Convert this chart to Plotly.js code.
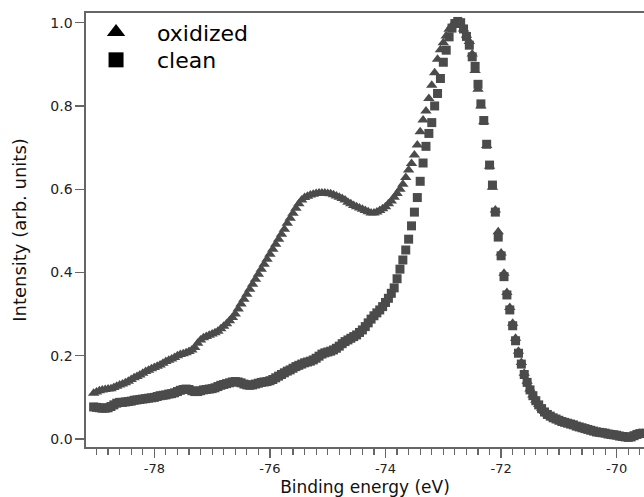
<!DOCTYPE html>
<html>
<head>
<meta charset="utf-8">
<script src="https://cdn.plot.ly/plotly-3.0.1.min.js"></script>
<style>
html,body{margin:0;padding:0;background:#fff;}
#chart{width:644px;height:497px;}
</style>
</head>
<body>
<div id="chart"></div>
<script>
// Binding energy (eV)
const energy = [
-79.05,-79.00,-78.95,-78.90,-78.85,-78.80,-78.75,-78.70,-78.65,-78.60,
-78.55,-78.50,-78.45,-78.40,-78.35,-78.30,-78.25,-78.20,-78.15,-78.10,
-78.05,-78.00,-77.95,-77.90,-77.85,-77.80,-77.75,-77.70,-77.65,-77.60,
-77.55,-77.50,-77.45,-77.40,-77.35,-77.30,-77.25,-77.20,-77.15,-77.10,
-77.05,-77.00,-76.95,-76.90,-76.85,-76.80,-76.75,-76.70,-76.65,-76.60,
-76.55,-76.50,-76.45,-76.40,-76.35,-76.30,-76.25,-76.20,-76.15,-76.10,
-76.05,-76.00,-75.95,-75.90,-75.85,-75.80,-75.75,-75.70,-75.65,-75.60,
-75.55,-75.50,-75.45,-75.40,-75.35,-75.30,-75.25,-75.20,-75.15,-75.10,
-75.05,-75.00,-74.95,-74.90,-74.85,-74.80,-74.75,-74.70,-74.65,-74.60,
-74.55,-74.50,-74.45,-74.40,-74.35,-74.30,-74.25,-74.20,-74.15,-74.10,
-74.05,-74.00,-73.95,-73.90,-73.85,-73.80,-73.75,-73.70,-73.65,-73.60,
-73.55,-73.50,-73.45,-73.40,-73.35,-73.30,-73.25,-73.20,-73.15,-73.10,
-73.05,-73.00,-72.95,-72.90,-72.85,-72.80,-72.75,-72.70,-72.65,-72.60,
-72.55,-72.50,-72.45,-72.40,-72.35,-72.30,-72.25,-72.20,-72.15,-72.10,
-72.05,-72.00,-71.95,-71.90,-71.85,-71.80,-71.75,-71.70,-71.65,-71.60,
-71.55,-71.50,-71.45,-71.40,-71.35,-71.30,-71.25,-71.20,-71.15,-71.10,
-71.05,-71.00,-70.95,-70.90,-70.85,-70.80,-70.75,-70.70,-70.65,-70.60,
-70.55,-70.50,-70.45,-70.40,-70.35,-70.30,-70.25,-70.20,-70.15,-70.10,
-70.05,-70.00,-69.95,-69.90,-69.85,-69.80,-69.75,-69.70,-69.65,-69.60,
-69.55
];

// Intensity, clean surface (squares)
const clean = [
0.077,0.076,0.075,0.074,0.074,0.075,0.078,0.082,0.086,0.088,
0.088,0.089,0.090,0.091,0.093,0.094,0.095,0.096,0.097,0.098,
0.099,0.100,0.102,0.104,0.105,0.106,0.108,0.109,0.111,0.114,
0.117,0.119,0.120,0.119,0.116,0.114,0.114,0.116,0.118,0.119,
0.120,0.121,0.123,0.126,0.129,0.131,0.133,0.135,0.137,0.138,
0.137,0.135,0.132,0.130,0.129,0.130,0.132,0.134,0.136,0.137,
0.138,0.140,0.143,0.147,0.151,0.155,0.159,0.163,0.166,0.170,
0.174,0.177,0.180,0.183,0.185,0.187,0.190,0.194,0.199,0.204,
0.207,0.209,0.211,0.214,0.218,0.223,0.229,0.234,0.238,0.242,
0.246,0.250,0.256,0.262,0.270,0.279,0.288,0.296,0.303,0.310,
0.318,0.328,0.338,0.350,0.363,0.385,0.408,0.430,0.454,0.480,
0.512,0.545,0.580,0.619,0.663,0.703,0.734,0.760,0.800,0.830,
0.866,0.905,0.934,0.966,0.987,0.998,1.003,1.000,0.985,0.967,
0.946,0.918,0.895,0.852,0.805,0.765,0.708,0.658,0.610,0.545,
0.485,0.440,0.390,0.346,0.310,0.272,0.236,0.206,0.180,0.155,
0.136,0.118,0.104,0.092,0.082,0.073,0.065,0.059,0.055,0.051,
0.048,0.045,0.042,0.040,0.038,0.036,0.034,0.031,0.029,0.027,
0.025,0.023,0.021,0.019,0.017,0.016,0.015,0.014,0.012,0.011,
0.010,0.009,0.007,0.006,0.005,0.004,0.005,0.008,0.011,0.013,
0.014
];

// Intensity, oxidized surface (triangles)
const oxidized = [
0.110,0.113,0.116,0.118,0.119,0.120,0.121,0.124,0.127,0.130,
0.132,0.135,0.139,0.143,0.147,0.150,0.154,0.158,0.162,0.165,
0.169,0.172,0.175,0.178,0.182,0.186,0.189,0.192,0.196,0.200,
0.203,0.205,0.207,0.210,0.214,0.220,0.230,0.238,0.243,0.246,
0.249,0.252,0.255,0.259,0.265,0.271,0.277,0.284,0.292,0.300,
0.312,0.324,0.336,0.348,0.360,0.372,0.384,0.396,0.408,0.420,
0.432,0.444,0.456,0.468,0.480,0.492,0.504,0.518,0.530,0.542,
0.554,0.565,0.574,0.580,0.583,0.586,0.588,0.590,0.591,0.591,
0.591,0.590,0.589,0.587,0.584,0.581,0.578,0.574,0.569,0.565,
0.561,0.558,0.555,0.552,0.549,0.546,0.543,0.543,0.545,0.549,
0.553,0.558,0.565,0.572,0.581,0.590,0.600,0.612,0.628,0.646,
0.662,0.682,0.706,0.738,0.766,0.788,0.818,0.850,0.880,0.912,
0.935,0.952,0.968,0.984,0.993,0.999,1.000,0.997,0.985,0.970,
0.955,0.925,0.885,0.840,0.800,0.762,0.705,0.655,0.605,0.550,
0.498,0.447,0.398,0.352,0.316,0.278,0.242,0.211,0.184,0.158,
0.139,0.120,0.106,0.093,0.083,0.074,0.066,0.060,0.055,0.051,
0.048,0.045,0.042,0.040,0.038,0.036,0.034,0.031,0.029,0.027,
0.025,0.023,0.021,0.019,0.017,0.016,0.015,0.014,0.012,0.011,
0.010,0.009,0.007,0.006,0.005,0.004,0.005,0.008,0.011,0.013,
0.014
];

const seriesNames = ['oxidized', 'clean'];
const xTickVals = [-78, -76, -74, -72, -70];
const yTickVals = [0.0, 0.2, 0.4, 0.6, 0.8, 1.0];

const dataColor = '#4b4b4b';
const axisColor = '#666666';
const font = 'DejaVu Sans, Verdana, sans-serif';
const pad = '\u00a0\u00a0\u00a0';

const traces = [
  {x: energy, y: oxidized, type: 'scatter', mode: 'markers', showlegend: false,
   marker: {symbol: 'triangle-up', size: 10, color: dataColor, line: {width: 0}}},
  {x: energy, y: clean, type: 'scatter', mode: 'markers', showlegend: false,
   marker: {symbol: 'square', size: 9, color: dataColor, line: {width: 0}}},
  {x: [null], y: [null], type: 'scatter', mode: 'markers', name: pad + seriesNames[0],
   legend: 'legend',
   marker: {symbol: 'triangle-up', size: 16, color: '#000000', line: {width: 0}}},
  {x: [null], y: [null], type: 'scatter', mode: 'markers', name: pad + seriesNames[1],
   legend: 'legend2',
   marker: {symbol: 'square', size: 15, color: '#000000', line: {width: 0}}}
];

const legendCommon = {xanchor: 'left', yanchor: 'top', bgcolor: 'rgba(0,0,0,0)', borderwidth: 0,
  font: {family: font, size: 22, color: '#000'}};

const layout = {
  width: 644, height: 497,
  margin: {l: 86, r: 0, t: 13, b: 50, pad: 0},
  paper_bgcolor: '#ffffff', plot_bgcolor: '#ffffff',
  showlegend: true,
  legend: Object.assign({x: 0.018, y: 1.004}, legendCommon),
  legend2: Object.assign({x: 0.018, y: 0.940}, legendCommon),
  xaxis: {
    range: [-79.182, -69.528], autorange: false,
    tickmode: 'array', tickvals: xTickVals, ticktext: xTickVals.map(String),
    ticks: 'outside', ticklen: 9, tickwidth: 1.3, tickcolor: axisColor,
    ticklabelstandoff: 0,
    minor: {dtick: 0.2, tick0: -79, ticks: 'outside', ticklen: 6, tickwidth: 1.2, tickcolor: axisColor, showgrid: false},
    showline: true, linecolor: axisColor, linewidth: 1.6, mirror: true,
    showgrid: false, zeroline: false,
    tickfont: {family: font, size: 13, color: '#222'},
    title: {text: 'Binding energy (eV)', standoff: 9,
            font: {family: font, size: 17, color: '#111'}}
  },
  yaxis: {
    range: [-0.0192, 1.0233], autorange: false,
    tickmode: 'array', tickvals: yTickVals, ticktext: yTickVals.map(v => v.toFixed(1)),
    ticks: 'outside', ticklen: 9, tickwidth: 1.3, tickcolor: axisColor,
    showline: true, linecolor: axisColor, linewidth: 1.6, mirror: false,
    showgrid: false, zeroline: false,
    tickfont: {family: font, size: 14, color: '#222'},
    title: {text: 'Intensity (arb. units)', standoff: 19,
            font: {family: font, size: 18, color: '#111'}}
  }
};

Plotly.newPlot('chart', traces, layout, {staticPlot: true, displayModeBar: false});
</script>
</body>
</html>
